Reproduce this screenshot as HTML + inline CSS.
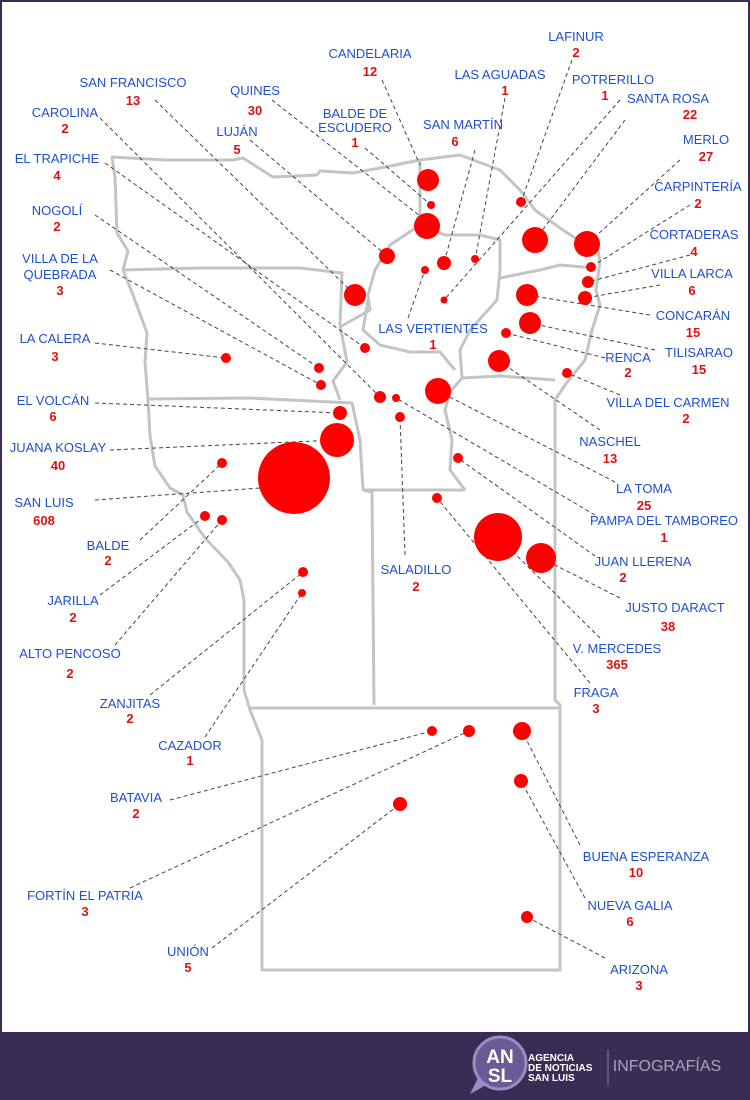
<!DOCTYPE html>
<html><head><meta charset="utf-8"><style>
html,body{margin:0;padding:0;width:750px;height:1100px;overflow:hidden;background:#fff}
#w{position:absolute;left:0;top:0;width:750px;height:1100px;background:#3a2d55}
#map{position:absolute;left:2px;top:2px;width:746px;height:1030px;background:#fff}
svg text{font-family:"Liberation Sans Narrow","Liberation Sans",sans-serif;font-size:13px;text-anchor:middle}
.n{fill:#1f4fd1}.v{fill:#e01010;font-weight:bold}
</style></head><body><div id="w"><div id="map"></div>
<svg width="750" height="1100" style="position:absolute;left:0;top:0">
<g fill="none" stroke="#c4c4c4" stroke-width="3" stroke-linejoin="round">
<path d="M112,157 L167,160 L233,160 L243,158 L273,177 L317,175 L320,171 L353,173 L380,168 L420,160 L460,155 L500,170 L520,190 L535,210 L560,228 L575,238 L596,240 L600,262 L596,290 L600,305 L592,330 L585,360 L565,385 L555,400 L555,700 L560,705 L560,970 L262,970 L262,740 L250,710 L244,690 L244,600 L240,580 L228,562 L205,538 L187,512 L183,495 L170,488 L155,466 L150,436 L148,400 L145,362 L147,333 L133,295 L123,270 L128,251 L117,233 L115,177 Z"/>
<path d="M123,270 L200,268 L300,268 L342,273 L340,325 L347,362 L333,381 L340,400"/>
<path d="M148,399 L250,398 L352,403 L360,440 L363,490 L372,492 L374,705"/>
<path d="M363,490 L465,490"/>
<path d="M420,160 L420,225 L445,235 L480,235 L500,240 L500,270 L497,300 L470,330 L460,350 L462,378 L450,392 L445,410 L452,440 L450,470 L465,490"/>
<path d="M420,225 L390,245 L375,270 L368,295 L370,310 L340,327"/>
<path d="M500,278 L540,270 L560,265 L595,268"/>
<path d="M462,378 L500,376 L555,380"/>
<path d="M368,300 L363,330 L380,345 L410,352 L440,352 L455,370"/>
<path d="M250,708 L560,708"/>
</g>
<g stroke="#444" stroke-width="1" stroke-dasharray="4,3">
<line x1="155" y1="100" x2="355" y2="295"/><line x1="100" y1="118" x2="380" y2="397"/>
<line x1="105" y1="163" x2="365" y2="348"/><line x1="95" y1="215" x2="319" y2="368"/>
<line x1="110" y1="270" x2="321" y2="385"/><line x1="95" y1="343" x2="226" y2="358"/>
<line x1="95" y1="403" x2="340" y2="413"/><line x1="110" y1="450" x2="337" y2="440"/>
<line x1="95" y1="500" x2="260" y2="488"/><line x1="140" y1="540" x2="222" y2="463"/>
<line x1="100" y1="595" x2="205" y2="516"/><line x1="115" y1="645" x2="222" y2="520"/>
<line x1="150" y1="695" x2="303" y2="572"/><line x1="205" y1="737" x2="302" y2="593"/>
<line x1="170" y1="800" x2="432" y2="731"/><line x1="130" y1="888" x2="469" y2="731"/>
<line x1="212" y1="948" x2="400" y2="804"/>
<line x1="382" y1="80" x2="420" y2="165"/><line x1="272" y1="100" x2="420" y2="216"/>
<line x1="250" y1="140" x2="387" y2="256"/><line x1="365" y1="148" x2="431" y2="205"/>
<line x1="475" y1="150" x2="444" y2="263"/><line x1="505" y1="98" x2="475" y2="260"/>
<line x1="572" y1="60" x2="521" y2="202"/><line x1="620" y1="100" x2="444" y2="300"/>
<line x1="625" y1="120" x2="535" y2="240"/><line x1="680" y1="160" x2="587" y2="244"/>
<line x1="690" y1="205" x2="591" y2="267"/><line x1="690" y1="255" x2="588" y2="282"/>
<line x1="660" y1="285" x2="585" y2="298"/><line x1="650" y1="315" x2="527" y2="295"/>
<line x1="655" y1="350" x2="530" y2="323"/><line x1="605" y1="358" x2="506" y2="333"/>
<line x1="620" y1="395" x2="567" y2="373"/><line x1="408" y1="318" x2="425" y2="270"/>
<line x1="600" y1="430" x2="499" y2="361"/><line x1="615" y1="482" x2="438" y2="391"/>
<line x1="595" y1="515" x2="396" y2="398"/><line x1="595" y1="556" x2="458" y2="458"/>
<line x1="620" y1="598" x2="541" y2="558"/><line x1="405" y1="555" x2="400" y2="417"/>
<line x1="600" y1="638" x2="498" y2="537"/><line x1="590" y1="683" x2="437" y2="498"/>
<line x1="580" y1="845" x2="522" y2="731"/><line x1="585" y1="898" x2="521" y2="781"/>
<line x1="605" y1="958" x2="527" y2="917"/>
</g>
<g fill="#ff0000">
<circle cx="428" cy="180" r="11"/><circle cx="431" cy="205" r="4"/><circle cx="427" cy="226" r="13"/>
<circle cx="387" cy="256" r="8"/><circle cx="355" cy="295" r="11"/><circle cx="444" cy="263" r="7"/>
<circle cx="475" cy="259" r="4"/><circle cx="425" cy="270" r="4"/><circle cx="444" cy="300" r="3.5"/>
<circle cx="521" cy="202" r="5"/><circle cx="535" cy="240" r="13"/><circle cx="587" cy="244" r="13"/>
<circle cx="591" cy="267" r="5"/><circle cx="588" cy="282" r="6"/><circle cx="585" cy="298" r="7"/>
<circle cx="527" cy="295" r="11"/><circle cx="530" cy="323" r="11"/><circle cx="506" cy="333" r="5"/>
<circle cx="499" cy="361" r="11"/><circle cx="567" cy="373" r="5"/><circle cx="365" cy="348" r="5"/>
<circle cx="319" cy="368" r="5"/><circle cx="321" cy="385" r="5"/><circle cx="380" cy="397" r="6"/>
<circle cx="396" cy="398" r="4"/><circle cx="438" cy="391" r="13"/><circle cx="400" cy="417" r="5"/>
<circle cx="340" cy="413" r="7"/><circle cx="337" cy="440" r="17"/><circle cx="294" cy="478" r="36"/>
<circle cx="222" cy="463" r="5"/><circle cx="205" cy="516" r="5"/><circle cx="222" cy="520" r="5"/>
<circle cx="458" cy="458" r="5"/><circle cx="437" cy="498" r="5"/><circle cx="498" cy="537" r="24"/>
<circle cx="541" cy="558" r="15"/><circle cx="303" cy="572" r="5"/><circle cx="302" cy="593" r="4"/>
<circle cx="432" cy="731" r="5"/><circle cx="469" cy="731" r="6"/><circle cx="522" cy="731" r="9"/>
<circle cx="521" cy="781" r="7"/><circle cx="400" cy="804" r="7"/><circle cx="527" cy="917" r="6"/>
<circle cx="226" cy="358" r="5"/>
</g>
<g>
<text class="n" x="133" y="87">SAN FRANCISCO</text><text class="v" x="133" y="105">13</text>
<text class="n" x="65" y="117">CAROLINA</text><text class="v" x="65" y="133">2</text>
<text class="n" x="57" y="163">EL TRAPICHE</text><text class="v" x="57" y="180">4</text>
<text class="n" x="57" y="215">NOGOLÍ</text><text class="v" x="57" y="231">2</text>
<text class="n" x="60" y="263">VILLA DE LA</text><text class="n" x="60" y="279">QUEBRADA</text><text class="v" x="60" y="295">3</text>
<text class="n" x="55" y="343">LA CALERA</text><text class="v" x="55" y="361">3</text>
<text class="n" x="53" y="405">EL VOLCÁN</text><text class="v" x="53" y="421">6</text>
<text class="n" x="58" y="452">JUANA KOSLAY</text><text class="v" x="58" y="470">40</text>
<text class="n" x="44" y="507">SAN LUIS</text><text class="v" x="44" y="525">608</text>
<text class="n" x="108" y="550">BALDE</text><text class="v" x="108" y="565">2</text>
<text class="n" x="73" y="605">JARILLA</text><text class="v" x="73" y="622">2</text>
<text class="n" x="70" y="658">ALTO PENCOSO</text><text class="v" x="70" y="678">2</text>
<text class="n" x="130" y="708">ZANJITAS</text><text class="v" x="130" y="723">2</text>
<text class="n" x="190" y="750">CAZADOR</text><text class="v" x="190" y="765">1</text>
<text class="n" x="136" y="802">BATAVIA</text><text class="v" x="136" y="818">2</text>
<text class="n" x="85" y="900">FORTÍN EL PATRIA</text><text class="v" x="85" y="916">3</text>
<text class="n" x="188" y="956">UNIÓN</text><text class="v" x="188" y="972">5</text>
<text class="n" x="370" y="58">CANDELARIA</text><text class="v" x="370" y="76">12</text>
<text class="n" x="255" y="95">QUINES</text><text class="v" x="255" y="115">30</text>
<text class="n" x="237" y="136">LUJÁN</text><text class="v" x="237" y="154">5</text>
<text class="n" x="355" y="118">BALDE DE</text><text class="n" x="355" y="132">ESCUDERO</text><text class="v" x="355" y="147">1</text>
<text class="n" x="576" y="41">LAFINUR</text><text class="v" x="576" y="57">2</text>
<text class="n" x="500" y="79">LAS AGUADAS</text><text class="v" x="505" y="95">1</text>
<text class="n" x="613" y="84">POTRERILLO</text><text class="v" x="605" y="100">1</text>
<text class="n" x="463" y="129">SAN MARTÍN</text><text class="v" x="455" y="146">6</text>
<text class="n" x="668" y="103">SANTA ROSA</text><text class="v" x="690" y="119">22</text>
<text class="n" x="706" y="144">MERLO</text><text class="v" x="706" y="161">27</text>
<text class="n" x="698" y="191">CARPINTERÍA</text><text class="v" x="698" y="208">2</text>
<text class="n" x="694" y="239">CORTADERAS</text><text class="v" x="694" y="256">4</text>
<text class="n" x="692" y="278">VILLA LARCA</text><text class="v" x="692" y="295">6</text>
<text class="n" x="693" y="320">CONCARÁN</text><text class="v" x="693" y="337">15</text>
<text class="n" x="699" y="357">TILISARAO</text><text class="v" x="699" y="374">15</text>
<text class="n" x="628" y="362">RENCA</text><text class="v" x="628" y="377">2</text>
<text class="n" x="668" y="407">VILLA DEL CARMEN</text><text class="v" x="686" y="423">2</text>
<text class="n" x="433" y="333">LAS VERTIENTES</text><text class="v" x="433" y="349">1</text>
<text class="n" x="610" y="446">NASCHEL</text><text class="v" x="610" y="463">13</text>
<text class="n" x="644" y="493">LA TOMA</text><text class="v" x="644" y="510">25</text>
<text class="n" x="664" y="525">PAMPA DEL TAMBOREO</text><text class="v" x="664" y="542">1</text>
<text class="n" x="643" y="566">JUAN LLERENA</text><text class="v" x="623" y="582">2</text>
<text class="n" x="675" y="612">JUSTO DARACT</text><text class="v" x="668" y="631">38</text>
<text class="n" x="416" y="574">SALADILLO</text><text class="v" x="416" y="591">2</text>
<text class="n" x="617" y="653">V. MERCEDES</text><text class="v" x="617" y="669">365</text>
<text class="n" x="596" y="697">FRAGA</text><text class="v" x="596" y="713">3</text>
<text class="n" x="646" y="861">BUENA ESPERANZA</text><text class="v" x="636" y="877">10</text>
<text class="n" x="630" y="910">NUEVA GALIA</text><text class="v" x="630" y="926">6</text>
<text class="n" x="639" y="974">ARIZONA</text><text class="v" x="639" y="990">3</text>
</g>
<g>
<circle cx="500" cy="1063" r="26" fill="#6a5a95" stroke="#9b8cc4" stroke-width="3"/>
<path d="M478,1078 L470,1094 L488,1084 Z" fill="#9b8cc4"/>
<text x="500" y="1063" style="font-size:19px;fill:#fff;font-weight:bold;font-family:'Liberation Sans',sans-serif">AN</text>
<text x="500" y="1082" style="font-size:19px;fill:#fff;font-weight:bold;font-family:'Liberation Sans',sans-serif">SL</text>
<text x="528" y="1061" style="font-size:10px;fill:#fff;font-weight:bold;text-anchor:start;font-family:'Liberation Sans',sans-serif">AGENCIA</text>
<text x="528" y="1071" style="font-size:10px;fill:#fff;font-weight:bold;text-anchor:start;font-family:'Liberation Sans',sans-serif">DE NOTICIAS</text>
<text x="528" y="1081" style="font-size:10px;fill:#fff;font-weight:bold;text-anchor:start;font-family:'Liberation Sans',sans-serif">SAN LUIS</text>
<line x1="608" y1="1050" x2="608" y2="1085" stroke="#8a7fa5" stroke-width="1"/>
<text x="667" y="1071" style="font-size:16px;fill:#a9a1bd;">INFOGRAFÍAS</text>
</g>
</svg></div></body></html>
